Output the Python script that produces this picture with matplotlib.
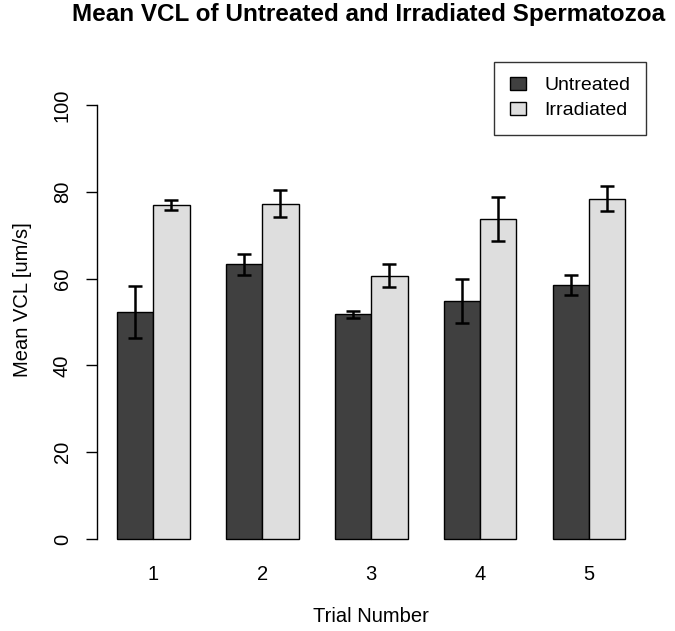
import numpy as np
import matplotlib.pyplot as plt

plt.rcParams['font.family'] = ['Liberation Sans', 'DejaVu Sans']

trials = ['1', '2', '3', '4', '5']
untreated = [52.4, 63.3, 51.8, 54.8, 58.5]
untreated_err = [6.0, 2.4, 0.8, 5.0, 2.3]
irradiated = [77.0, 77.3, 60.7, 73.8, 78.4]
irradiated_err = [1.2, 3.1, 2.7, 5.1, 2.9]

dark = '#404040'
light = '#dedede'

fig = plt.figure(figsize=(6.75, 6.31), dpi=100)
ax = fig.add_axes([96.7 / 675, (631 - 556.4) / 631, 549 / 675, 494.8 / 631])

# R barplot layout: bar width 1, one unit gap between groups
left = 1 + 3 * np.arange(len(trials))
ax.bar(left + 0.5, untreated, width=1, color=dark, edgecolor='black', linewidth=1, label='Untreated')
ax.bar(left + 1.5, irradiated, width=1, color=light, edgecolor='black', linewidth=1, label='Irradiated')
ax.errorbar(left + 0.5, untreated, yerr=untreated_err, fmt='none', ecolor='black',
            elinewidth=1.8, capsize=4.7, capthick=1.8)
ax.errorbar(left + 1.5, irradiated, yerr=irradiated_err, fmt='none', ecolor='black',
            elinewidth=1.8, capsize=4.7, capthick=1.8)

ax.set_xlim(0.44, 15.56)
ax.set_ylim(-4, 110)

for s in ['top', 'right', 'bottom']:
    ax.spines[s].set_visible(False)
ax.spines['left'].set_bounds(0, 100)
ax.spines['left'].set_linewidth(1)

ax.set_yticks([0, 20, 40, 60, 80, 100])
ax.tick_params(axis='y', direction='out', length=7.9, width=1, pad=10, labelsize=14.5)
for lab in ax.get_yticklabels():
    lab.set_rotation(90)
    lab.set_va('center')
ax.set_xticks(left + 1)
ax.set_xticklabels(trials)
ax.tick_params(axis='x', length=0, pad=6.5, labelsize=14.5)

fig.text(23 / 675, 1 - 300 / 631, 'Mean VCL [um/s]', rotation=90, ha='center', va='center', fontsize=14.5)
fig.text(371 / 675, 1 - 616 / 631, 'Trial Number', ha='center', va='center', fontsize=14.5)
fig.text(369 / 675, 1 - 15 / 631, 'Mean VCL of Untreated and Irradiated Spermatozoa',
         ha='center', va='center', fontsize=17.5, fontweight='bold')

leg = ax.legend(loc='upper right', bbox_to_anchor=(1.0, 1.0), fontsize=14, frameon=True,
                fancybox=False, edgecolor='black', borderaxespad=0, handlelength=0.82,
                handleheight=0.65, handletextpad=0.95, labelspacing=0.38, borderpad=0.8)
leg.get_frame().set_linewidth(1)

fig.savefig('out.png', dpi=100)
